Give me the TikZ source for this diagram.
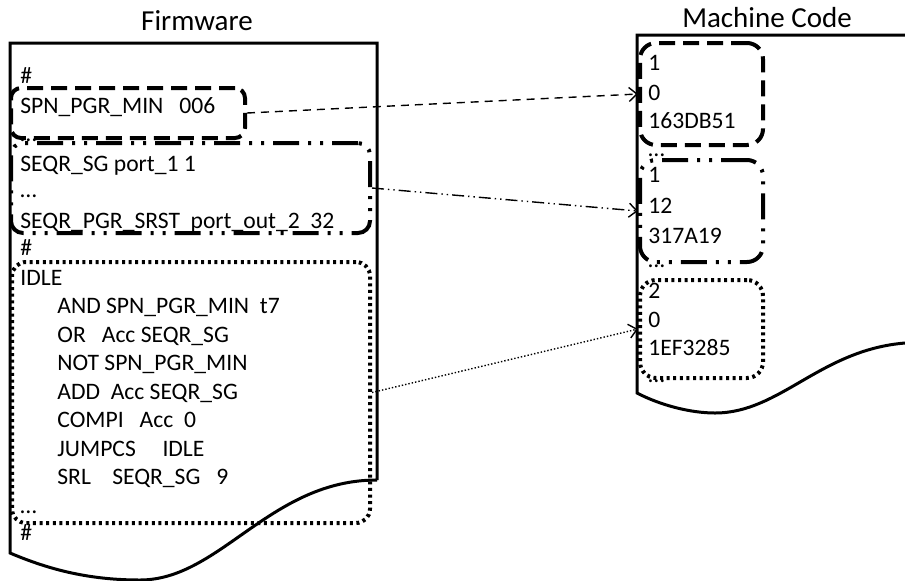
\documentclass[tikz,border=0pt]{standalone}
\usepackage{fontspec}
\setmainfont{Carlito}
\usetikzlibrary{arrows.meta,fit}

\tikzset{
  doc/.style={line width=1.5pt, line join=miter},
  txt/.style={anchor=base west, inner sep=0pt, font=\fontsize{11.8}{14}\selectfont},
  ttl/.style={anchor=base, inner sep=0pt, font=\fontsize{14.5}{17}\selectfont},
  dashbox/.style={draw, line width=2pt, rounded corners=5pt, dash pattern=on 8pt off 4pt, inner sep=0pt},
  dotdashbox/.style={draw, line width=2pt, rounded corners=6pt, dash pattern=on 13pt off 4.5pt on 1.5pt off 4.5pt on 1.5pt off 4.5pt, inner sep=0pt},
  dotbox/.style={draw, line width=2pt, rounded corners=7pt, dash pattern=on 1.5pt off 1.8pt, inner sep=0pt},
  link/.style={-{Straight Barb[length=4pt,width=7pt]}, line width=0.7pt},
}

\begin{document}
\begin{tikzpicture}[x=0.5pt, y=-0.5pt]
    \useasboundingbox (0,0) rectangle (905,580);

    % Titles
    \node[ttl] (fw) at (197,30) {Firmware};
    \node[ttl] (mc) at (767,27) {Machine Code};

    % Firmware sheet
    \draw[doc] (377,480) -- (377,43) -- (10,43) -- (10,553)
        .. controls (50,570) and (90,580) .. (140,580)
        .. controls (220,580) and (270,480) .. (377,480);

    % Machine code sheet
    \draw[doc] (905,35) -- (637,35) -- (637,393)
        .. controls (660,405) and (690,413) .. (715,413)
        .. controls (780,413) and (820,350) .. (905,343);

    % Firmware text
    \node[txt] (hash1) at (20,83) {\#};
    \node[txt] (spn) at (20,113) {SPN\_PGR\_MIN~~~006};
    \node[txt] (dots1) at (20,141) {…};
    \node[txt] (seqr) at (20,171) {SEQR\_SG port\_1 1};
    \node[txt] (dots2) at (20,197) {…};
    \node[txt] (srst) at (20,228) {SEQR\_PGR\_SRST~~port\_out\_2~~32};
    \node[txt] (hash2) at (20,255) {\#};
    \node[txt] (idle) at (20,285) {IDLE};
    \node[txt] (op1) at (57,313.5) {AND SPN\_PGR\_MIN~~t7};
    \node[txt] (op2) at (57,342) {OR~~~Acc SEQR\_SG};
    \node[txt] (op3) at (57,370.5) {NOT SPN\_PGR\_MIN};
    \node[txt] (op4) at (57,399) {ADD~~Acc SEQR\_SG};
    \node[txt] (op5) at (57,427.5) {COMPI~~~Acc~~0};
    \node[txt] (op6) at (57,456) {JUMPCS~~~~~IDLE};
    \node[txt] (op7) at (57,484.5) {SRL~~~~SEQR\_SG~~~9};
    \node[txt] (dots3) at (20,513) {…};
    \node[txt] (hash3) at (20,540) {\#};

    % Machine code text
    \node[txt] (m1) at (648,70) {1};
    \node[txt] (m2) at (648,100) {0};
    \node[txt] (m3) at (648,128) {163DB51};
    \node[txt] (mdots1) at (648,156) {…};
    \node[txt] (m4) at (648,182) {1};
    \node[txt] (m5) at (648,213) {12};
    \node[txt] (m6) at (648,243) {317A19};
    \node[txt] (mdots2) at (648,267) {…};
    \node[txt] (m7) at (648,298) {2};
    \node[txt] (m8) at (648,327) {0};
    \node[txt] (m9) at (648,355) {1EF3285};
    \node[txt] (mdots3) at (648,382) {…};

    % Marked blocks
    \node[dashbox, fit={(11,88) (245,138)}] (lspn) {};
    \node[dotdashbox, fit={(11,143) (370,233)}] (lseqr) {};
    \node[dotbox, fit={(12,262) (370,523)}] (lidle) {};
    \node[dashbox, rounded corners=8pt, fit={(640,43) (763,145)}] (rspn) {};
    \node[dotdashbox, rounded corners=8pt, fit={(640,160) (763,262)}] (rseqr) {};
    \node[dotbox, rounded corners=8pt, fit={(640,280) (763,378)}] (ridle) {};

    % Links
    \draw[link, dash pattern=on 4pt off 3pt] (lspn.east) -- (rspn.west);
    \draw[link, dash pattern=on 6pt off 2pt on 0.7pt off 2pt on 0.7pt off 2pt] (lseqr.east) -- (rseqr.west);
    \draw[link, dash pattern=on 0.7pt off 1pt] (lidle.east) -- (ridle.west);
\end{tikzpicture}
\end{document}
